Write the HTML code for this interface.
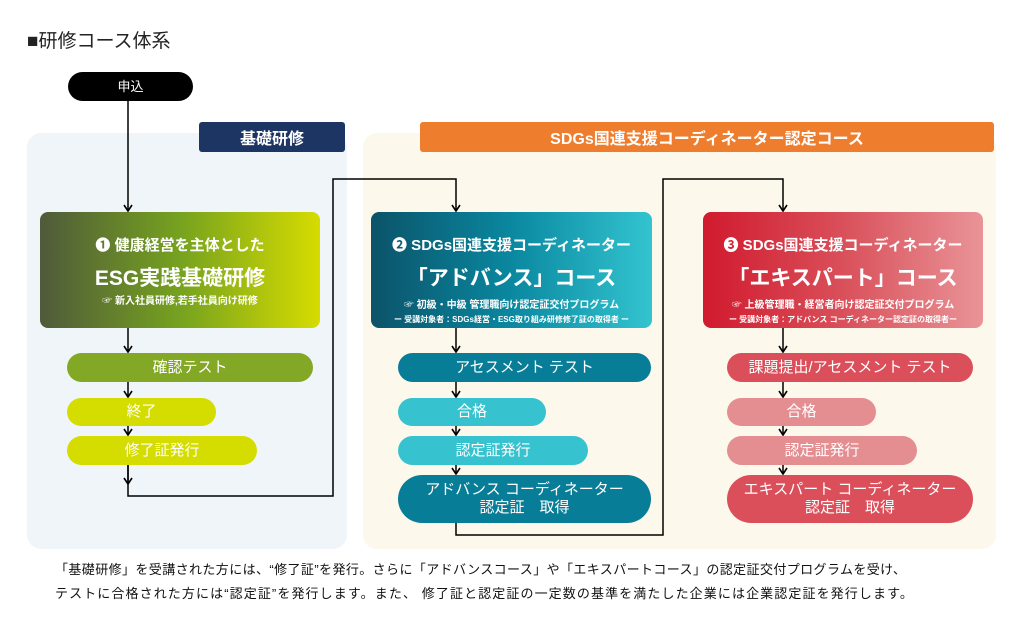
<!DOCTYPE html>
<html><head><meta charset="utf-8">
<style>
*{margin:0;padding:0;box-sizing:border-box}
body{width:1024px;height:624px;background:#fff;position:relative;overflow:hidden;font-family:"Liberation Sans","Noto Sans CJK JP",sans-serif}
.a{position:absolute}
.pill{position:absolute;border-radius:15px;color:#fff;font-size:15px;display:flex;align-items:center;justify-content:center;text-align:center;line-height:18px}
.box{position:absolute;border-radius:8px;color:#fff;text-align:center;top:212px;height:116px}
.box .l1{position:absolute;top:22px;left:0;right:0;font-size:15px;font-weight:bold}
.box .l2{position:absolute;top:50px;left:0;right:0;font-size:21px;font-weight:bold}
.box .l3{position:absolute;top:84px;left:0;right:0;font-size:10px;font-weight:bold}
.box .l4{position:absolute;top:102px;left:0;right:0;font-size:8px;font-weight:bold}
</style></head><body>
<div class="a" style="left:27px;top:26px;font-size:19px;color:#222">■研修コース体系</div>
<div class="pill" style="left:68px;top:72px;width:125px;height:29px;background:#000;font-size:13px">申込</div>

<div class="a" style="left:27px;top:133px;width:320px;height:416px;background:#f0f5fa;border-radius:14px"></div>
<div class="a" style="left:363px;top:133px;width:633px;height:416px;background:#fdf8ec;border-radius:14px"></div>
<div class="a" style="left:199px;top:122px;width:146px;height:30px;background:#1c3562;border-radius:3px;color:#fff;font-size:16px;font-weight:bold;display:flex;align-items:center;justify-content:center">基礎研修</div>
<div class="a" style="left:420px;top:122px;width:574px;height:30px;background:#ee7d2e;border-radius:3px;color:#fff;font-size:16px;font-weight:bold;display:flex;align-items:center;justify-content:center">SDGs国連支援コーディネーター認定コース</div>

<svg class="a" style="left:0;top:0" width="1024" height="624">
<defs><marker id="m" markerWidth="10" markerHeight="10" refX="8" refY="5" orient="auto" markerUnits="userSpaceOnUse"><path d="M2,1 L8,5 L2,9" fill="none" stroke="#000" stroke-width="1.6"/></marker></defs>
<g stroke="#000" stroke-width="1.5" fill="none">
<path d="M128,100 V211" marker-end="url(#m)"/>
<path d="M128,328 V352" marker-end="url(#m)"/>
<path d="M128,382 V397" marker-end="url(#m)"/>
<path d="M128,426 V435" marker-end="url(#m)"/>
<path d="M128,465 V484" marker-end="url(#m)"/>
<path d="M128,465 V496 H333 V179 H456 V211" marker-end="url(#m)"/>
<path d="M456,328 V352" marker-end="url(#m)"/>
<path d="M456,382 V397" marker-end="url(#m)"/>
<path d="M456,426 V435" marker-end="url(#m)"/>
<path d="M456,465 V474" marker-end="url(#m)"/>
<path d="M456,523 V535 H663 V179 H783 V211" marker-end="url(#m)"/>
<path d="M783,328 V352" marker-end="url(#m)"/>
<path d="M783,382 V397" marker-end="url(#m)"/>
<path d="M783,426 V435" marker-end="url(#m)"/>
<path d="M783,465 V474" marker-end="url(#m)"/>
</g></svg>

<div class="box" style="left:40px;width:280px;background:linear-gradient(90deg,#4f5a3a,#76a21f 50%,#d6dc00)">
<div class="l1">❶ 健康経営を主体とした</div>
<div class="l2">ESG実践基礎研修</div>
<div class="l3" style="top:80px">☞ 新入社員研修,若手社員向け研修</div>
</div>
<div class="box" style="left:371px;width:281px;background:linear-gradient(90deg,#0b5369,#0a88a0 50%,#33c4d0)">
<div class="l1">❷ SDGs国連支援コーディネーター</div>
<div class="l2">「アドバンス」コース</div>
<div class="l3">☞ 初級・中級 管理職向け認定証交付プログラム</div>
<div class="l4">ー 受講対象者：SDGs経営・ESG取り組み研修修了証の取得者 ー</div>
</div>
<div class="box" style="left:703px;width:280px;background:linear-gradient(90deg,#d11a2e,#d9505a 50%,#e99498)">
<div class="l1">❸ SDGs国連支援コーディネーター</div>
<div class="l2">「エキスパート」コース</div>
<div class="l3">☞ 上級管理職・経営者向け認定証交付プログラム</div>
<div class="l4">ー 受講対象者：アドバンス コーディネーター認定証の取得者ー</div>
</div>

<div class="pill" style="left:67px;top:353px;width:246px;height:29px;background:#82a825">確認テスト</div>
<div class="pill" style="left:67px;top:398px;width:149px;height:28px;background:#d4dc00">終了</div>
<div class="pill" style="left:67px;top:436px;width:190px;height:29px;background:#d4dc00">修了証発行</div>

<div class="pill" style="left:398px;top:353px;width:253px;height:29px;background:#087d98">アセスメント テスト</div>
<div class="pill" style="left:398px;top:398px;width:148px;height:28px;background:#36c3cf">合格</div>
<div class="pill" style="left:398px;top:436px;width:190px;height:29px;background:#36c3cf">認定証発行</div>
<div class="pill" style="left:398px;top:475px;width:253px;height:48px;background:#087d98;border-radius:24px">アドバンス コーディネーター<br>認定証　取得</div>

<div class="pill" style="left:727px;top:353px;width:246px;height:29px;background:#db4f5b">課題提出/アセスメント テスト</div>
<div class="pill" style="left:727px;top:398px;width:149px;height:28px;background:#e58e92">合格</div>
<div class="pill" style="left:727px;top:436px;width:190px;height:29px;background:#e58e92">認定証発行</div>
<div class="pill" style="left:727px;top:475px;width:246px;height:48px;background:#db4f5b;border-radius:24px">エキスパート コーディネーター<br>認定証　取得</div>

<div class="a" style="left:55px;top:559px;font-size:13px;color:#111;white-space:nowrap;letter-spacing:0.4px">「基礎研修」を受講された方には、“修了証”を発行。さらに「アドバンスコース」や「エキスパートコース」の認定証交付プログラムを受け、</div>
<div class="a" style="left:55px;top:583px;font-size:13px;color:#111;white-space:nowrap;letter-spacing:1.1px">テストに合格された方には“認定証”を発行します。また、 修了証と認定証の一定数の基準を満たした企業には企業認定証を発行します。</div>
</body></html>
